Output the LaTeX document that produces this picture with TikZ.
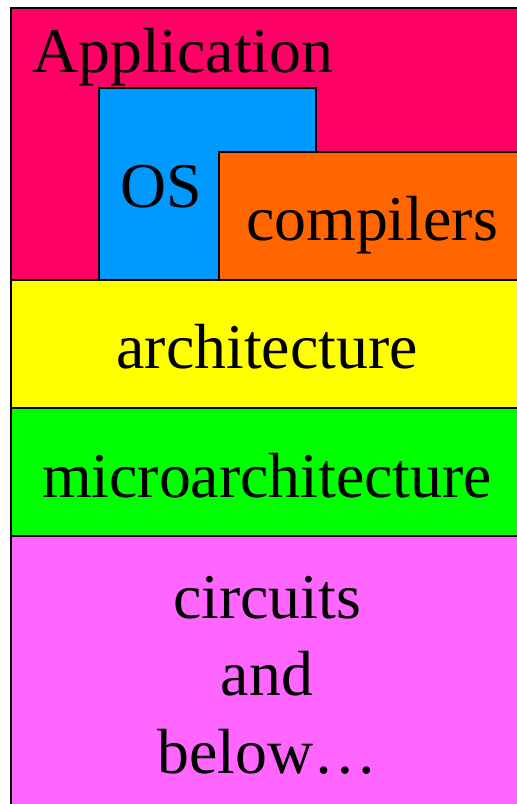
\documentclass[tikz,border=0pt]{standalone}
\usepackage{fontspec}
\setmainfont{Liberation Serif}
\definecolor{appred}{HTML}{FF0066}
\definecolor{osblue}{HTML}{0099FF}
\definecolor{comporange}{HTML}{FF6600}
\definecolor{archyellow}{HTML}{FFFF00}
\definecolor{microgreen}{HTML}{00FF00}
\definecolor{circpink}{HTML}{FF66FF}
\begin{document}
\begin{tikzpicture}[x=1pt,y=-1pt,
  layer/.style={draw=black, line width=1.5pt},
  lbl/.style={inner sep=0pt, font=\fontsize{63.8}{77}\selectfont},
  lblc/.style={lbl, anchor=base, align=center}]
\useasboundingbox (0,0) rectangle (517,804);
\begin{scope}
\clip (0,0) rectangle (517,804);
% stacked layers, drawn bottom-up so the upper ones overlap
\path[layer, fill=appred] (11,8) rectangle (530,290);
\path[layer, fill=osblue] (99,88) rectangle (316,280);
\path[layer, fill=comporange] (219,152) rectangle (530,280);
\path[layer, fill=archyellow] (11,280) rectangle (530,408);
\path[layer, fill=microgreen] (11,408) rectangle (530,536);
\path[layer, fill=circpink] (11,536) rectangle (530,820);
\end{scope}
\node[lbl, anchor=base west] (app) at (32,72) {Application};
\node[lbl, anchor=base west] (os) at (120,207) {OS};
\node[lbl, anchor=base west] (comp) at (246,240) {compilers};
\node[lblc] (arch) at (267,368) {architecture};
\node[lblc] (micro) at (267,497) {microarchitecture};
\node[lblc] (circ) at (267,618) {circuits};
\node[lblc] (and) at (267,695) {and};
\node[lblc] (below) at (267,773) {below…};
\end{tikzpicture}
\end{document}
